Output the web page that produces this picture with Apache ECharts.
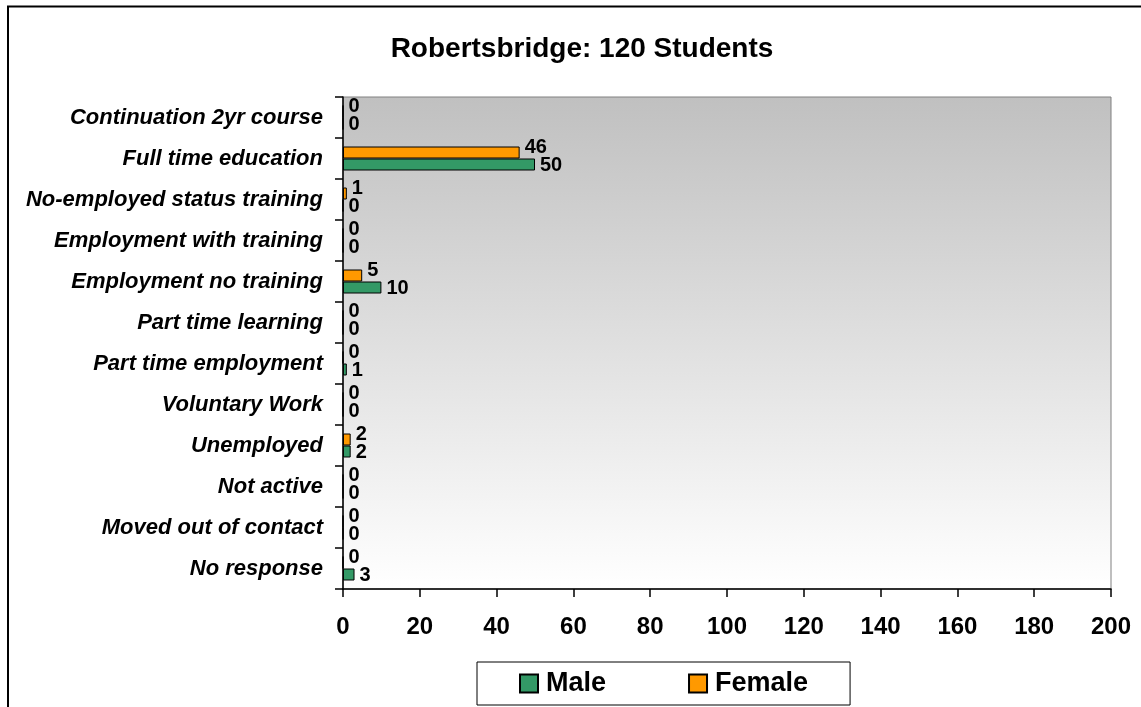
<!DOCTYPE html>
<html>
<head>
<meta charset="utf-8">
<script src="https://cdn.jsdelivr.net/npm/echarts@6/dist/echarts.min.js"></script>
<style>
  html, body { margin: 0; padding: 0; background: #ffffff; }
  #chart { width: 1141px; height: 707px; }
</style>
</head>
<body>
<div id="chart"></div>
<script>
const categories = [
  'Continuation 2yr course',
  'Full time education',
  'No-employed status training',
  'Employment with training',
  'Employment no training',
  'Part time learning',
  'Part time employment',
  'Voluntary Work',
  'Unemployed',
  'Not active',
  'Moved out of contact',
  'No response'
];
const femaleValues = [0, 46, 1, 0, 5, 0, 0, 0, 2, 0, 0, 0];
const maleValues   = [0, 50, 0, 0, 10, 0, 1, 0, 2, 0, 0, 3];
const xTicks = { min: 0, max: 200, interval: 20 };

const FONT = "'Liberation Sans', Arial, sans-serif";
const chart = echarts.init(document.getElementById('chart'), null, { renderer: 'canvas' });

function labelStyle(dy) {
  return {
    show: true,
    position: 'right',
    distance: 5,
    offset: [0, dy],
    color: '#000',
    fontFamily: FONT,
    fontWeight: 'bold',
    fontSize: 20
  };
}

chart.setOption({
  animation: false,
  backgroundColor: '#ffffff',
  title: {
    text: 'Robertsbridge: 120 Students',
    left: 577,
    textAlign: 'center',
    top: 30,
    textStyle: { fontFamily: FONT, fontWeight: 'bold', fontSize: 28, color: '#000' }
  },
  graphic: [{
    type: 'rect',
    shape: { x: 8, y: 6.5, width: 1300, height: 900 },
    style: { fill: 'none', stroke: '#000', lineWidth: 2 },
    silent: true,
    z: -1
  }],
  legend: {
    data: ['Male', 'Female'],
    icon: 'rect',
    left: 477,
    top: 662,
    padding: [8, 42, 8, 42],
    itemWidth: 18,
    itemHeight: 18,
    itemGap: 82,
    borderColor: '#000',
    borderWidth: 1,
    backgroundColor: '#fff',
    textStyle: { fontFamily: FONT, fontWeight: 'bold', fontSize: 27, color: '#000', padding: [0, 0, 0, 3] }
  },
  grid: {
    left: 343,
    right: 30,
    top: 97,
    bottom: 118,
    show: true,
    borderColor: '#808080',
    borderWidth: 1,
    backgroundColor: {
      type: 'linear', x: 0, y: 0, x2: 0, y2: 1,
      colorStops: [
        { offset: 0, color: '#c0c0c0' },
        { offset: 1, color: '#ffffff' }
      ]
    }
  },
  xAxis: {
    type: 'value',
    min: xTicks.min,
    max: xTicks.max,
    interval: xTicks.interval,
    axisLine: { show: true, lineStyle: { color: '#000', width: 1.5 } },
    axisTick: { show: true, length: 8, lineStyle: { color: '#000', width: 1.5 } },
    splitLine: { show: false },
    axisLabel: {
      margin: 26,
      color: '#000',
      fontFamily: FONT,
      fontWeight: 'bold',
      fontSize: 24
    }
  },
  yAxis: {
    type: 'category',
    data: categories,
    inverse: true,
    axisLine: { show: true, lineStyle: { color: '#000', width: 1.5 } },
    axisTick: { show: true, length: 8, alignWithLabel: false, lineStyle: { color: '#000', width: 1.5 } },
    axisLabel: {
      margin: 20,
      color: '#000',
      fontFamily: FONT,
      fontWeight: 'bold',
      fontStyle: 'italic',
      fontSize: 22
    }
  },
  series: [
    {
      name: 'Female',
      type: 'bar',
      data: femaleValues,
      barWidth: 12,
      barGap: '0%',
      itemStyle: { color: '#ff9900', borderColor: '#000', borderWidth: 1 },
      label: labelStyle(-5)
    },
    {
      name: 'Male',
      type: 'bar',
      data: maleValues,
      barWidth: 12,
      barGap: '0%',
      itemStyle: { color: '#339966', borderColor: '#000', borderWidth: 1 },
      label: labelStyle(1)
    }
  ]
});
</script>
</body>
</html>
